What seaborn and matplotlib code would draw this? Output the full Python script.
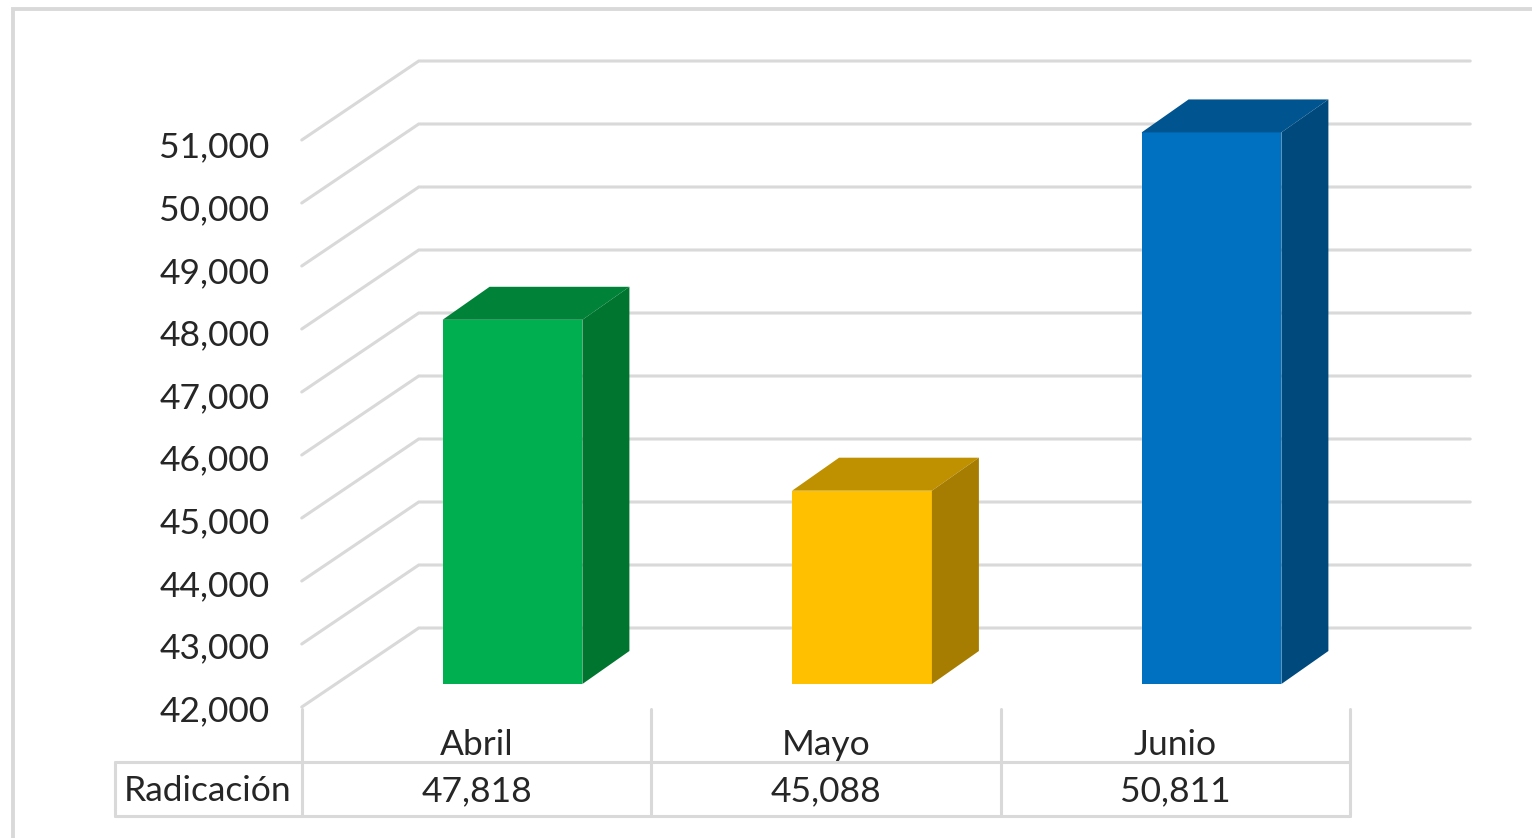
import matplotlib
matplotlib.use("Agg")
import matplotlib.pyplot as plt
from matplotlib.lines import Line2D
from matplotlib.patches import Polygon
from matplotlib.transforms import blended_transform_factory
import seaborn as sns

months = ["Abril", "Mayo", "Junio"]
radicacion = [47818, 45088, 50811]
row_label = "Radicación"
y_ticks = [42000, 43000, 44000, 45000, 46000, 47000, 48000, 49000, 50000, 51000]

front_colors = ["#00B050", "#FFC000", "#0070C0"]
top_colors = ["#008238", "#BF9000", "#005490"]
side_colors = ["#00752F", "#A67D00", "#00497D"]
grid_color = "#D9D9D9"
text_color = "#262626"
font_size = 25.5

W, H = 1532, 838
PX_X = 349.5  # pixels per category
PX_Y = 62.6 / 1000  # pixels per unit

sns.set_theme(style="white")
plt.rcParams["font.family"] = ["Lato", "DejaVu Sans"]

fig = plt.figure(figsize=(W / 100, H / 100), dpi=100, facecolor="white")
ax = fig.add_axes([337.75 / W, (H - 684) / H, 1048.5 / W, 563.4 / H])

sns.barplot(x=months, y=radicacion, hue=months, palette=front_colors, width=0.4,
            saturation=1, legend=False, ax=ax, zorder=3, linewidth=0)
ax.set_xlim(-0.5, 2.5)
ax.set_ylim(y_ticks[0], y_ticks[-1])
ax.axis("off")

# fake 3D depth, in data units
depth_x, depth_y = 47 / PX_X, 33 / PX_Y / 1000 * 1
depth_y = 33 / PX_Y
front_x, front_y = -36 / PX_X, -23 / PX_Y
wall_x, wall_y = 81 / PX_X, 56 / PX_Y
wall_right = 2.5 + 84 / PX_X
wall_scale = 63 / 62.6

# back wall and left wall grid
for v in y_ticks:
    yw = y_ticks[0] + wall_y + (v - y_ticks[0]) * wall_scale
    yf = y_ticks[0] + front_y + (v - y_ticks[0]) * wall_scale
    ax.plot([-0.5 + front_x, -0.5 + wall_x, wall_right], [yf, yw, yw], color=grid_color,
            lw=2.2, clip_on=False, zorder=1, solid_joinstyle="miter")

# top and side faces of the bars
for i, bar in enumerate(ax.patches):
    x0, x1 = bar.get_x(), bar.get_x() + bar.get_width()
    top = radicacion[i]
    base = y_ticks[0]
    ax.add_patch(Polygon([(x0, top), (x1, top), (x1 + depth_x, top + depth_y), (x0 + depth_x, top + depth_y)],
                         facecolor=top_colors[i], edgecolor="none", clip_on=False, zorder=3))
    ax.add_patch(Polygon([(x1, base), (x1 + depth_x, base + depth_y), (x1 + depth_x, top + depth_y), (x1, top)],
                         facecolor=side_colors[i], edgecolor="none", clip_on=False, zorder=3))

# y labels
label_x = -0.5 + (269.5 - 337.75) / PX_X
for v in y_ticks:
    ax.text(label_x, v + front_y - 4 / PX_Y, f"{v:,}", ha="right", va="center", fontsize=font_size,
            color=text_color, clip_on=False)

# data table below the plot
tf_x = blended_transform_factory(ax.transData, fig.transFigure)


def fy(px):
    return 1 - px / H


table_left = -0.5 + (115 - 337.75) / PX_X
for k in range(len(months) + 1):
    xk = k - 0.5 + front_x
    ax.add_line(Line2D([xk, xk], [fy(709), fy(816)], transform=tf_x, color=grid_color, lw=2.2, clip_on=False))
ax.add_line(Line2D([table_left, table_left], [fy(762), fy(816)], transform=tf_x, color=grid_color, lw=2.2, clip_on=False))
for row_y in [762, 816]:
    ax.add_line(Line2D([table_left, len(months) - 0.5 + front_x], [fy(row_y), fy(row_y)], transform=tf_x,
                       color=grid_color, lw=2.2, clip_on=False))

for i, month in enumerate(months):
    ax.text(i + front_x, fy(745), month, transform=tf_x, ha="center", va="center", fontsize=font_size, color=text_color)
    ax.text(i + front_x, fy(791), f"{radicacion[i]:,}", transform=tf_x, ha="center", va="center", fontsize=font_size, color=text_color)
ax.text(-0.5 + (208 - 337.75) / PX_X, fy(791), row_label, transform=tf_x, ha="center", va="center", fontsize=font_size, color=text_color)

# picture frame, open on the right and at the bottom
fig.add_artist(Line2D([13 / W, 13 / W, 1], [0, fy(9), fy(9)], transform=fig.transFigure, color=grid_color, lw=2.8,
                      solid_joinstyle="miter"))

fig.savefig("out.png", dpi=100)
